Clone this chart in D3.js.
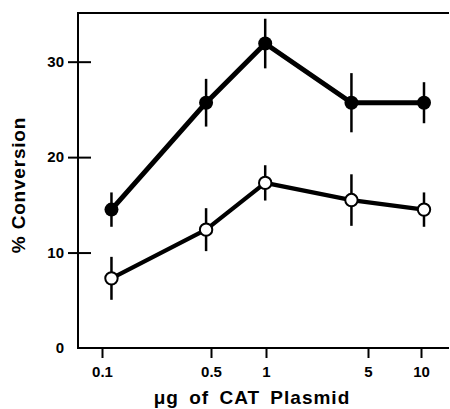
<!DOCTYPE html>
<html>
<head>
<meta charset="utf-8">
<script src="https://cdn.jsdelivr.net/npm/d3@7"></script>
<style>
  body { margin: 0; background: #fff; }
  svg { display: block; }
</style>
</head>
<body>
<svg id="chart" width="450" height="409"></svg>
<script>
// dose of plasmid (µg) as plotted
const doses = [0.115, 0.465, 0.99, 3.85, 10.4];
// % conversion, filled circles
const filledMean = [14.5, 25.7, 31.9, 25.7, 25.7];
const filledErr = [1.8, 2.5, 2.6, 3.1, 2.15];
// % conversion, open circles
const openMean = [7.3, 12.4, 17.3, 15.5, 14.5];
const openErr = [2.25, 2.25, 1.85, 2.7, 1.8];

const xTicks = [0.1, 0.5, 1, 5, 10];
const yTicks = [0, 10, 20, 30];

const FONT = '"Liberation Sans", Arial, sans-serif';
const svg = d3.select('#chart');
const mLeft = 78, mRight = 449, mTop = 13, mBottom = 348;

// hand-drawn log axis: ticks are not evenly spaced per decade
const x = d3.scaleLog()
  .domain(xTicks)
  .range([102, 211, 266, 368, 421]);
const y = d3.scaleLinear().domain([0, 35.1]).range([mBottom, mTop]);

// frame: left, top and bottom lines (open on the right)
svg.append('path')
  .attr('d', `M${mRight},${mTop}H${mLeft}V${mBottom}H${mRight}`)
  .attr('stroke', '#000').attr('stroke-width', 2).attr('fill', 'none');

// y axis, ticks crossing the line
const yAxis = svg.append('g')
  .attr('transform', `translate(${mLeft},0)`)
  .call(d3.axisLeft(y).tickValues(yTicks).tickSize(0).tickPadding(14));
yAxis.select('.domain').remove();
yAxis.selectAll('.tick line')
  .attr('x1', -10).attr('x2', 13)
  .attr('stroke', '#000').attr('stroke-width', 2)
  .filter(d => d === 0).remove();

// x axis, ticks below
const xAxis = svg.append('g')
  .attr('transform', `translate(0,${mBottom})`)
  .call(d3.axisBottom(x).tickValues(xTicks).tickFormat(d => String(d)).tickSize(10).tickPadding(8));
xAxis.select('.domain').remove();
xAxis.selectAll('.tick line').attr('stroke', '#000').attr('stroke-width', 2);

svg.selectAll('.tick text')
  .attr('font-family', FONT).attr('font-size', 15).attr('font-weight', 'bold').attr('fill', '#000');

// axis titles
svg.append('text')
  .attr('transform', 'translate(25,185) rotate(-90)')
  .attr('text-anchor', 'middle')
  .attr('font-family', FONT).attr('font-size', 19).attr('font-weight', 'bold')
  .attr('letter-spacing', 0.8)
  .text('% Conversion');

svg.append('text')
  .attr('x', 252).attr('y', 404)
  .attr('text-anchor', 'middle')
  .attr('font-family', FONT).attr('font-size', 19).attr('font-weight', 'bold')
  .attr('letter-spacing', 1).attr('word-spacing', 4)
  .text('\u03bcg of CAT Plasmid');

function drawSeries(means, errs, filled, lineW) {
  const pts = doses.map((d, i) => ({ d, m: means[i], e: errs[i] }));
  const g = svg.append('g');

  g.selectAll('line.err').data(pts).enter().append('line')
    .attr('class', 'err')
    .attr('x1', p => x(p.d)).attr('x2', p => x(p.d))
    .attr('y1', p => y(p.m - p.e)).attr('y2', p => y(p.m + p.e))
    .attr('stroke', '#000').attr('stroke-width', 2.5);

  g.append('path').datum(pts)
    .attr('fill', 'none').attr('stroke', '#000')
    .attr('stroke-width', lineW).attr('stroke-linejoin', 'round')
    .attr('d', d3.line().x(p => x(p.d)).y(p => y(p.m)));

  g.selectAll('circle').data(pts).enter().append('circle')
    .attr('cx', p => x(p.d)).attr('cy', p => y(p.m))
    .attr('r', filled ? 7 : 6.2)
    .attr('fill', filled ? '#000' : '#fff')
    .attr('stroke', '#000').attr('stroke-width', filled ? 0 : 2);
}

drawSeries(filledMean, filledErr, true, 5);
drawSeries(openMean, openErr, false, 4.2);
</script>
</body>
</html>
